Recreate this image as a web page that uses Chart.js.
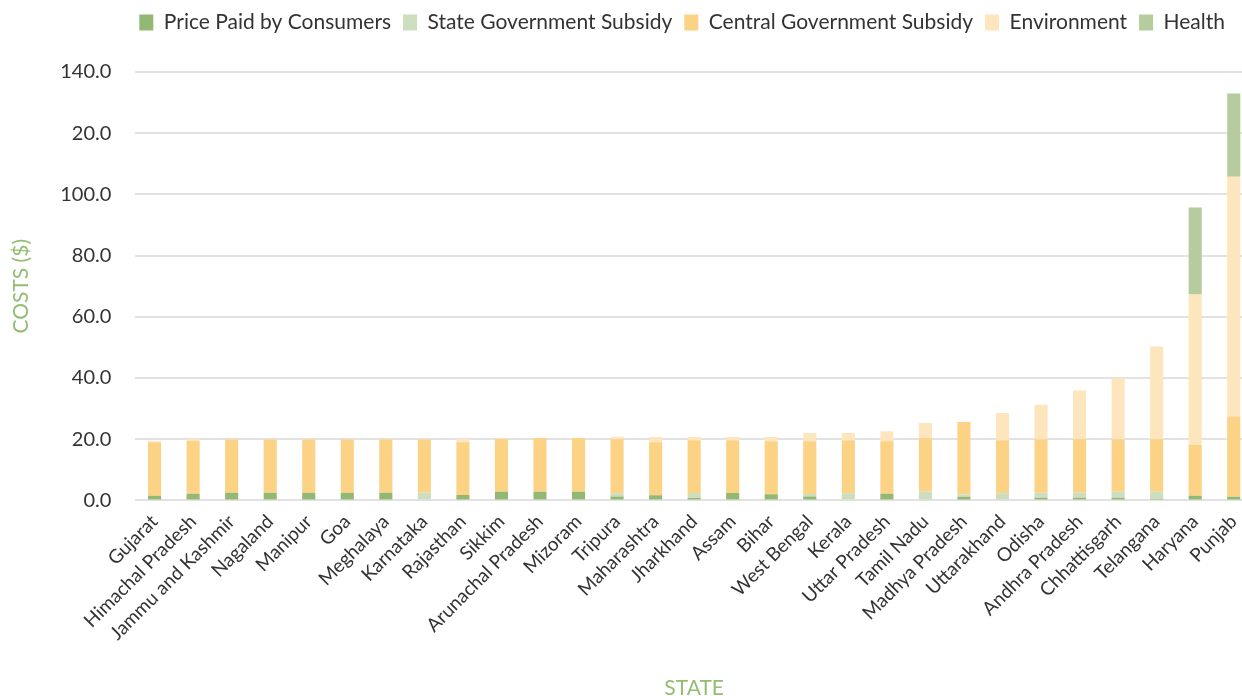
<!DOCTYPE html>
<html>
<head>
<meta charset="utf-8">
<script src="https://cdn.jsdelivr.net/npm/chart.js@4"></script>
<style>
  html, body { margin: 0; padding: 0; background: #fff; overflow: hidden; }
  #wrap { width: 1253px; height: 696px; position: relative; }
</style>
</head>
<body>
<div id="wrap"><canvas id="costChart"></canvas></div>
<script>
const states = ['Gujarat', 'Himachal Pradesh', 'Jammu and Kashmir', 'Nagaland', 'Manipur', 'Goa',
  'Meghalaya', 'Karnataka', 'Rajasthan', 'Sikkim', 'Arunachal Pradesh', 'Mizoram', 'Tripura',
  'Maharashtra', 'Jharkhand', 'Assam', 'Bihar', 'West Bengal', 'Kerala', 'Uttar Pradesh',
  'Tamil Nadu', 'Madhya Pradesh', 'Uttarakhand', 'Odisha', 'Andhra Pradesh', 'Chhattisgarh',
  'Telangana', 'Haryana', 'Punjab'];

const pricePaid = [1.5, 2.2, 2.5, 2.5, 2.5, 2.5, 2.5, 0, 1.8, 2.8, 2.8, 2.8, 1.3, 1.7, 0.8, 2.4,
  2.0, 1.3, 0, 2.2, 0, 1.2, 0, 0.9, 0.9, 0.9, 0.5, 1.5, 1.2];
const stateSubsidy = [0, 0, 0, 0, 0, 0, 0, 2.5, 0, 0, 0, 0, 1.0, 0, 1.6, 0,
  0, 0.8, 2.3, 0, 2.9, 0.7, 2.3, 1.6, 1.6, 1.9, 2.3, 0, 0];
const centralSubsidy = [17.5, 17.3, 17.4, 17.4, 17.4, 17.4, 17.4, 17.4, 17.2, 17.3, 17.6, 17.6, 17.7, 17.3, 17.3, 17.3,
  17.3, 17.2, 17.4, 17.1, 17.4, 23.7, 17.4, 17.5, 17.5, 17.2, 17.2, 16.7, 26.2];
const environment = [0.3, 0.6, 0.2, 0.2, 0.2, 0.1, 0.1, 0.1, 1.1, 0.1, 0, 0, 0.8, 1.7, 1.0, 1.0,
  1.4, 2.7, 2.3, 3.3, 5.0, 0, 8.9, 11.3, 15.9, 20.1, 30.3, 49.1, 78.4];
const health = [0, 0, 0, 0, 0, 0, 0, 0, 0, 0, 0, 0, 0, 0, 0, 0,
  0, 0, 0, 0, 0, 0, 0, 0, 0, 0, 0, 28.4, 27.2];

// tick labels as printed on the original axis
const yTickLabels = ['0.0', '20.0', '40.0', '60.0', '80.0', '100.0', '20.0', '140.0'];

const fontFamily = 'Lato, "Open Sans", sans-serif';
const titleGreen = '#93bd72';

// extra room under the legend, and nudge it a bit to the left
const legendSpacer = {
    id: 'legendSpacer',
    beforeInit(chart) {
        const origFit = chart.legend.fit;
        chart.legend.fit = function () {
            origFit.bind(chart.legend)();
            this.height += 29;
        };
    },
    afterLayout(chart) {
        chart.legend.left -= 12;
        chart.legend.right -= 12;
    }
};

const ctx = document.getElementById('costChart').getContext('2d');

new Chart(ctx, {
    type: 'bar',
    data: {
        labels: states,
        datasets: [
            { label: 'Price Paid by Consumers', data: pricePaid, backgroundColor: '#93b874' },
            { label: 'State Government Subsidy', data: stateSubsidy, backgroundColor: '#cddebe' },
            { label: 'Central Government Subsidy', data: centralSubsidy, backgroundColor: '#fcd284' },
            { label: 'Environment', data: environment, backgroundColor: '#fde6be' },
            { label: 'Health', data: health, backgroundColor: '#b6cc9e' }
        ]
    },
    options: {
        responsive: true,
        maintainAspectRatio: false,
        animation: false,
        layout: { padding: { top: 0, left: 3, right: 0, bottom: 0 } },
        datasets: {
            bar: { categoryPercentage: 1.0, barPercentage: 0.34, borderWidth: 0 }
        },
        scales: {
            x: {
                stacked: true,
                grid: { display: false },
                border: { display: false },
                ticks: {
                    color: '#333',
                    font: { family: fontFamily, size: 19 },
                    minRotation: 45,
                    maxRotation: 45,
                    autoSkip: false,
                    padding: 2
                },
                title: {
                    display: true,
                    text: 'STATE',
                    color: titleGreen,
                    font: { family: fontFamily, size: 21 },
                    padding: { top: 29, bottom: -5 }
                }
            },
            y: {
                stacked: true,
                min: 0,
                max: 140,
                grid: { color: '#e2e2e2', lineWidth: 2, drawTicks: false },
                border: { display: false },
                ticks: {
                    stepSize: 20,
                    color: '#333',
                    padding: 24,
                    font: { family: fontFamily, size: 20 },
                    callback: (value, i) => yTickLabels[i]
                },
                title: {
                    display: true,
                    text: 'COSTS ($)',
                    color: titleGreen,
                    font: { family: fontFamily, size: 21 },
                    padding: { top: 6, bottom: 2 }
                }
            }
        },
        plugins: {
            legend: {
                position: 'top',
                fullSize: false,
                labels: {
                    color: '#333',
                    font: { family: fontFamily, size: 21 },
                    boxWidth: 14,
                    boxHeight: 16,
                    padding: 12
                }
            },
            tooltip: { enabled: false }
        }
    },
    plugins: [legendSpacer]
});
</script>
</body>
</html>
